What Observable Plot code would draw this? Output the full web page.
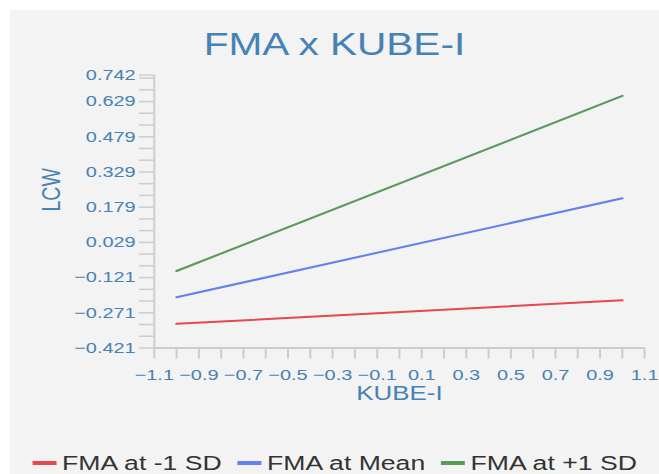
<!DOCTYPE html>
<html>
<head>
<meta charset="utf-8">
<script src="https://cdn.jsdelivr.net/npm/d3@7"></script>
<script src="https://cdn.jsdelivr.net/npm/@observablehq/plot@0.6"></script>
<style>
  html, body { margin: 0; padding: 0; background: #ffffff; }
  body { width: 659px; height: 474px; position: relative; overflow: hidden; font-family: 'Liberation Sans', Arial, sans-serif; }
  #panel { position: absolute; left: 10px; top: 10px; width: 649px; height: 464px; background: #f3f3f3; overflow: hidden; }
  #stretch { position: absolute; left: 0; top: 0; width: 488px; height: 464px; transform: scaleX(1.3299); transform-origin: 0 0; }
  #title { position: absolute; left: 0; top: 19px; width: 488px; text-align: center; font-size: 30.5px; line-height: 30.5px; color: #4682b4; white-space: nowrap; }
  #chart { position: absolute; left: 0; top: 0; }
  #legend { position: absolute; left: 0; top: 442.5px; width: 488px; display: flex; justify-content: center; align-items: center; font-size: 20px; line-height: 20px; color: #333333; white-space: nowrap; }
  .item { display: flex; align-items: center; margin: 0 5.8px; }
  .sw { width: 18px; height: 4px; margin-right: 4.5px; }
</style>
</head>
<body>
<div id="panel">
  <div id="stretch">
    <div id="chart"></div>
    <div id="title"></div>
    <div id="legend"></div>
  </div>
</div>
<script>
// ---- data ----
const chartTitle = "FMA x KUBE-I";
const xLabel = "KUBE-I";
const yLabel = "LCW";
const kube = [-1, 1];
const fmaLow = [-0.318, -0.218];   // FMA at -1 SD
const fmaMean = [-0.205, 0.217];   // FMA at Mean
const fmaHigh = [-0.093, 0.653];   // FMA at +1 SD
const seriesNames = ["FMA at -1 SD", "FMA at Mean", "FMA at +1 SD"];
const seriesColors = ["#e8474c", "#6380ec", "#5b9a5d"];
const xTickValues = [-1.1, -1.0, -0.9, -0.8, -0.7, -0.6, -0.5, -0.4, -0.3, -0.2, -0.1, 0, 0.1, 0.2, 0.3, 0.4, 0.5, 0.6, 0.7, 0.8, 0.9, 1.0, 1.1];
const xLabelValues = [-1.1, -0.9, -0.7, -0.5, -0.3, -0.1, 0.1, 0.3, 0.5, 0.7, 0.9, 1.1];
const xLabelText = ["\u22121.1", "\u22120.9", "\u22120.7", "\u22120.5", "\u22120.3", "\u22120.1", "0.1", "0.3", "0.5", "0.7", "0.9", "1.1"];
const yTickValues = [-0.421, -0.371, -0.321, -0.271, -0.221, -0.171, -0.121, -0.071, -0.021, 0.029, 0.079, 0.129, 0.179, 0.229, 0.279, 0.329, 0.379, 0.429, 0.479, 0.529, 0.579, 0.629, 0.679, 0.729, 0.742];
const yLabelValues = [-0.421, -0.271, -0.121, 0.029, 0.179, 0.329, 0.479, 0.629, 0.742];
const yLabelText = ["\u22120.421", "\u22120.271", "\u22120.121", "0.029", "0.179", "0.329", "0.479", "0.629", "0.742"];

// ---- build table ----
const seriesValues = [fmaLow, fmaMean, fmaHigh];
const lineData = [];
seriesNames.forEach((name, s) => {
  kube.forEach((x, i) => lineData.push({series: name, x, y: seriesValues[s][i]}));
});

const axisColor = "#cccccc";
const textColor = "#4682b4";

const chart = Plot.plot({
  width: 488,
  height: 400,
  marginTop: 64.5,
  marginBottom: 62.5,
  marginLeft: 108,
  marginRight: 11.3,
  style: {background: "transparent", fontFamily: "'Liberation Sans', Arial, sans-serif", overflow: "visible"},
  x: {domain: [-1.1, 1.1], label: null},
  y: {domain: [-0.421, 0.742], label: null},
  color: {domain: seriesNames, range: seriesColors},
  marks: [
    Plot.ruleX([-1.1], {stroke: axisColor, strokeWidth: 1.5}),
    Plot.ruleY([-0.421], {stroke: axisColor, strokeWidth: 2}),
    Plot.axisY({ticks: yTickValues, tickSize: 11, tickFormat: () => "", stroke: axisColor, strokeWidth: 1.5, label: null}),
    Plot.axisY({ticks: yLabelValues, tickSize: 0, tickPadding: 14, tickFormat: d => yLabelText[yLabelValues.indexOf(d)], fill: textColor, fontSize: 15, label: null}),
    Plot.axisX({ticks: xTickValues, tickSize: 11, tickFormat: () => "", stroke: axisColor, strokeWidth: 1.5, label: null}),
    Plot.axisX({ticks: xLabelValues, tickSize: 0, tickPadding: 21, tickFormat: d => xLabelText[xLabelValues.indexOf(d)], fill: textColor, fontSize: 15, label: null}),
    Plot.line(lineData, {x: "x", y: "y", z: "series", stroke: "series", strokeWidth: 2}),
    Plot.text([xLabel], {frameAnchor: "bottom", dy: 52.3, text: d => d, fill: textColor, fontSize: 19.5}),
    Plot.text([yLabel], {frameAnchor: "left", dx: -77, rotate: -90, text: d => d, fill: textColor, fontSize: 19.5})
  ]
});
document.getElementById("chart").appendChild(chart);
document.getElementById("title").textContent = chartTitle;

const legend = document.getElementById("legend");
seriesNames.forEach((name, i) => {
  const item = document.createElement("div");
  item.className = "item";
  const sw = document.createElement("span");
  sw.className = "sw";
  sw.style.background = seriesColors[i];
  const label = document.createElement("span");
  label.textContent = name;
  item.appendChild(sw);
  item.appendChild(label);
  legend.appendChild(item);
});
</script>
</body>
</html>
